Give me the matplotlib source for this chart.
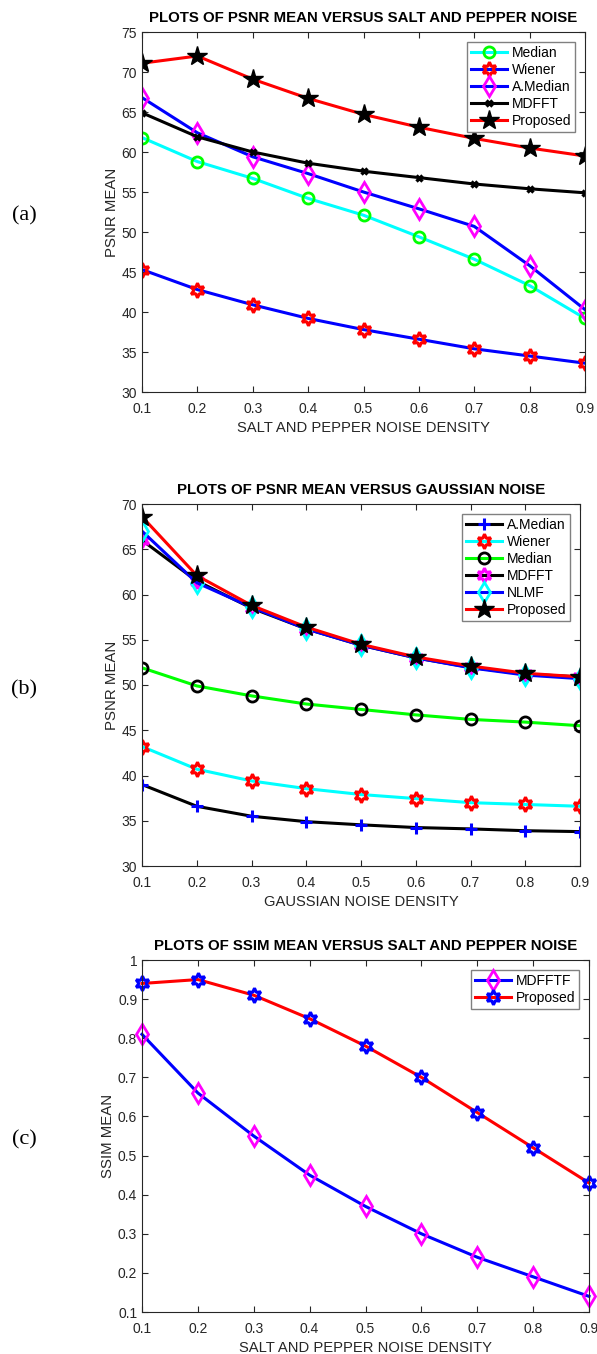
import numpy as np
import matplotlib
matplotlib.use('Agg')
import matplotlib.pyplot as plt

plt.rcParams['font.family'] = ['Liberation Sans', 'DejaVu Sans']

density = [0.1, 0.2, 0.3, 0.4, 0.5, 0.6, 0.7, 0.8, 0.9]

# (a) psnr, salt and pepper
sp_median = [61.8, 58.8, 56.7, 54.2, 52.1, 49.4, 46.6, 43.3, 39.2]
sp_wiener = [45.3, 42.8, 40.9, 39.2, 37.8, 36.6, 35.4, 34.5, 33.6]
sp_amedian = [66.8, 62.4, 59.4, 57.3, 55.0, 52.9, 50.7, 45.8, 40.3]
sp_mdfft = [64.9, 61.9, 60.0, 58.6, 57.6, 56.8, 56.0, 55.4, 54.9]
sp_proposed = [71.1, 72.0, 69.1, 66.7, 64.7, 63.1, 61.7, 60.5, 59.5]

# (b) psnr, gaussian
g_amedian = [39.0, 36.6, 35.5, 34.9, 34.55, 34.25, 34.1, 33.9, 33.8]
g_wiener = [43.2, 40.7, 39.4, 38.55, 37.9, 37.45, 37.0, 36.8, 36.6]
g_median = [51.9, 49.9, 48.8, 47.9, 47.3, 46.7, 46.2, 45.9, 45.5]
g_mdfft = [66.0, 61.5, 58.5, 56.2, 54.4, 53.0, 51.95, 51.2, 50.9]
g_nlmf = [67.0, 61.3, 58.6, 56.2, 54.4, 53.0, 51.9, 51.1, 50.7]
g_proposed = [68.6, 62.1, 58.8, 56.4, 54.5, 53.1, 52.1, 51.3, 50.9]

# (c) ssim, salt and pepper
ss_mdfftf = [0.81, 0.66, 0.55, 0.45, 0.37, 0.30, 0.24, 0.19, 0.14]
ss_proposed = [0.94, 0.95, 0.91, 0.85, 0.78, 0.70, 0.61, 0.52, 0.43]

hexagram = (6, 1, 0)
W, H = 597, 1354
fig = plt.figure(figsize=(W / 100, H / 100), dpi=100)


def make_axes(left, right, top, bottom):
    return fig.add_axes([left / W, 1 - bottom / H, (right - left) / W, (bottom - top) / H])


def style(ax, ylim, yticks, yfmt, title, xlabel, ylabel):
    ax.set_xlim(0.1, 0.9)
    ax.set_ylim(*ylim)
    ax.set_xticks(density)
    ax.set_xticklabels([f'{d:.1f}' for d in density])
    ax.set_yticks(yticks)
    ax.set_yticklabels([yfmt(v) for v in yticks])
    ax.tick_params(direction='in', top=True, right=True, length=4, width=0.8,
                   labelsize=10, colors='#262626')
    ax.tick_params(axis='x', pad=7)
    ax.tick_params(axis='y', pad=3.5)
    for s in ax.spines.values():
        s.set_color('#262626')
        s.set_linewidth(0.8)
    ax.set_title(title, fontsize=10.8, fontweight='bold', pad=7)
    ax.set_xlabel(xlabel, fontsize=10.6, color='#262626', labelpad=4)
    ax.set_ylabel(ylabel, fontsize=10.8, color='#262626', labelpad=2)
    ax.legend(loc='upper right', fontsize=10, handlelength=2.6, fancybox=False,
              edgecolor='#808080', framealpha=1, borderaxespad=0.7,
              labelspacing=0.22, handletextpad=0.3, borderpad=0.3)


lw = 2.2

# ---- (a)
ax = make_axes(142, 585, 32, 392)
ax.plot(density, sp_median, '-', color='cyan', lw=lw, marker='o', ms=8, mfc='none',
        mec='#00ff00', mew=2, label='Median')
ax.plot(density, sp_wiener, '-', color='blue', lw=lw, marker=hexagram, ms=10.5, mfc='none',
        mec='red', mew=2.2, label='Wiener')
ax.plot(density, sp_amedian, '-', color='blue', lw=lw, marker='d', ms=10, mfc='none',
        mec='magenta', mew=2, label='A.Median')
ax.plot(density, sp_mdfft, '-', color='black', lw=lw, marker='x', ms=5, mew=2.4,
        mec='black', label='MDFFT')
ax.plot(density, sp_proposed, '-', color='red', lw=lw, marker='*', ms=15, mfc='black',
        mec='black', label='Proposed')
style(ax, (30, 75), list(range(30, 76, 5)), lambda v: f'{v}',
      'PLOTS OF PSNR MEAN VERSUS SALT AND PEPPER NOISE',
      'SALT AND PEPPER NOISE DENSITY', 'PSNR MEAN')

# ---- (b)
ax = make_axes(142, 580, 504, 866)
ax.plot(density, g_amedian, '-', color='black', lw=lw, marker='+', ms=9, mew=2.2,
        mec='blue', label='A.Median')
ax.plot(density, g_wiener, '-', color='cyan', lw=lw, marker=hexagram, ms=10.5, mfc='none',
        mec='red', mew=2.2, label='Wiener')
ax.plot(density, g_median, '-', color='#00ff00', lw=lw, marker='o', ms=8, mfc='none',
        mec='black', mew=2, label='Median')
ax.plot(density, g_mdfft, '-', color='black', lw=lw, marker=hexagram, ms=10.5, mfc='none',
        mec='magenta', mew=2.2, label='MDFFT')
ax.plot(density, g_nlmf, '-', color='blue', lw=lw, marker='d', ms=10, mfc='none',
        mec='cyan', mew=2, label='NLMF')
ax.plot(density, g_proposed, '-', color='red', lw=lw, marker='*', ms=15, mfc='black',
        mec='black', label='Proposed')
style(ax, (30, 70), list(range(30, 71, 5)), lambda v: f'{v}',
      'PLOTS OF PSNR MEAN VERSUS GAUSSIAN NOISE',
      'GAUSSIAN NOISE DENSITY', 'PSNR MEAN')

# ---- (c)
ax = make_axes(142, 589, 960, 1312)
ax.plot(density, ss_mdfftf, '-', color='blue', lw=lw, marker='d', ms=10, mfc='none',
        mec='magenta', mew=2, label='MDFFTF')
ax.plot(density, ss_proposed, '-', color='red', lw=lw, marker=hexagram, ms=10.5, mfc='none',
        mec='blue', mew=2.2, label='Proposed')
yt = [0.1, 0.2, 0.3, 0.4, 0.5, 0.6, 0.7, 0.8, 0.9, 1.0]
style(ax, (0.1, 1.0), yt, lambda v: '1' if v == 1.0 else f'{v:.1f}',
      'PLOTS OF SSIM MEAN VERSUS SALT AND PEPPER NOISE',
      'SALT AND PEPPER NOISE DENSITY', 'SSIM MEAN')
for line in ax.lines:
    line.set_clip_on(False)

# panel letters
for label, ypix in [('(a)', 216), ('(b)', 690), ('(c)', 1140)]:
    fig.text(24 / W, 1 - ypix / H, label, fontsize=16, family='Liberation Serif',
             ha='center', va='center')

fig.savefig('out.png', dpi=100)
